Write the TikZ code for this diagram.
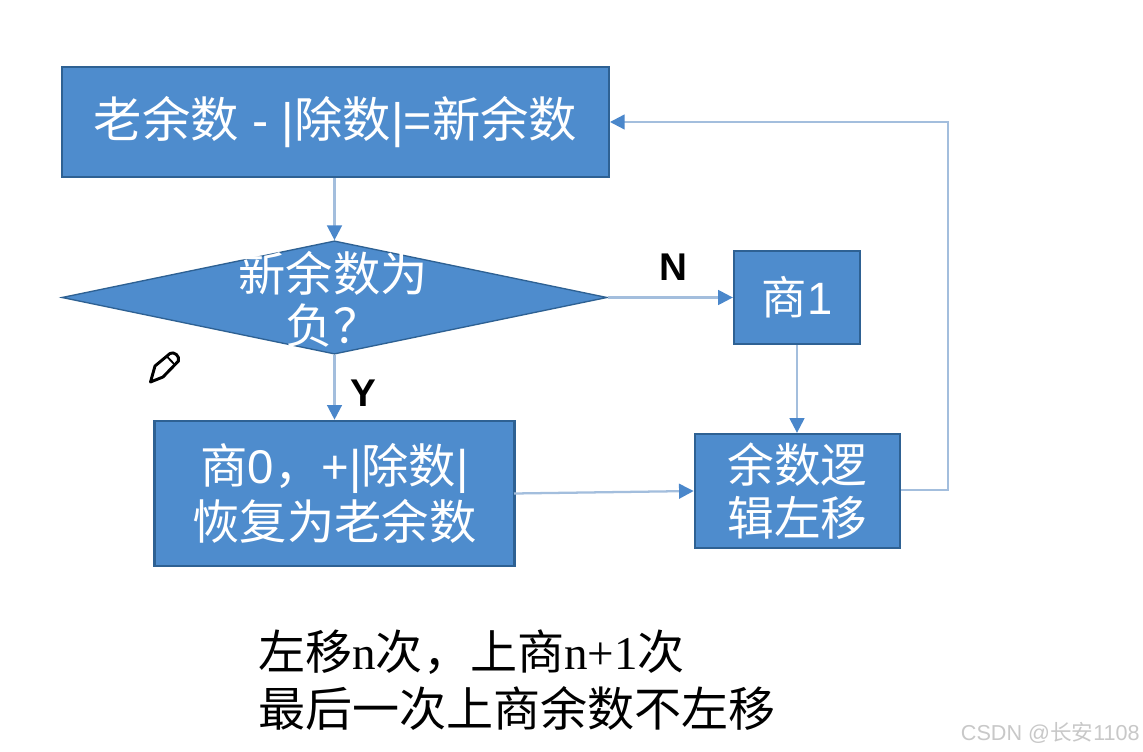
\documentclass[tikz,border=0pt]{standalone}
\usepackage{fontspec}
\usetikzlibrary{arrows.meta,shapes.geometric}
\setmainfont{Liberation Sans}
\newfontfamily\cjk{Noto Sans CJK SC}
\newfontfamily\ser{Liberation Serif}
\definecolor{boxfill}{HTML}{4E8CCD}
\definecolor{boxedge}{HTML}{2E6193}
\definecolor{linec}{HTML}{A3BEDD}
\definecolor{tipc}{HTML}{4A87CB}
\definecolor{mark}{HTML}{C8C8C8}
\tikzset{
  flowbox/.style={rectangle,draw=boxedge,fill=boxfill,line width=1.7pt,inner sep=0pt,
    text=white,align=center,font=\fontsize{35.5}{41}\selectfont},
  flowdiamond/.style={diamond,draw=boxedge,fill=boxfill,line width=1pt,inner sep=0pt,
    minimum width=409pt,minimum height=85pt,aspect=4.8},
  flowtext/.style={text=white,align=center,inner sep=0pt,font=\fontsize{35.5}{39}\selectfont},
  flowlink/.style={draw=linec,line width=1.7pt,
    -{Triangle[color=tipc,fill=tipc,length=11pt,width=11pt]}},
  branch/.style={inner sep=0pt,font=\fontsize{29}{32}\selectfont\bfseries},
  note/.style={anchor=west,inner sep=0pt,font=\fontsize{35.3}{40}\selectfont},
}
\begin{document}
\begin{tikzpicture}[x=0.75pt,y=-0.75pt]
\useasboundingbox (0,0) rectangle (1143,752);
\fill[white] (0,0) rectangle (1143,752);

\node[flowbox,minimum width=410pt,minimum height=82pt,font=\fontsize{36.3}{41}\selectfont] (old) at (335.5,122)
  {\raisebox{-3pt}{{\cjk 老余数} - |{\cjk 除数}|={\cjk 新余数}}};
\node[flowdiamond] (test) at (334.5,297.5) {};
\node[flowtext] (testlabel) at (333,299) {{\cjk 新余数为}\\{\cjk 负？}};
\node[flowbox,minimum width=94.5pt,minimum height=70pt] (q1) at (797,297.5)
  {\fontsize{34}{40}\selectfont{\cjk 商}1};
\node[flowbox,minimum width=154pt,minimum height=85.5pt,font=\fontsize{35}{40}\selectfont] (shift) at (797.5,491)
  {{\cjk 余数逻}\\{\cjk 辑左移}};
\node[flowbox,minimum width=270pt,minimum height=109pt,font=\fontsize{35.5}{42}\selectfont] (q0) at (334.5,493.5)
  {{\cjk 商}0{\cjk ，}+|{\cjk 除数}|\\{\cjk 恢复为老余数}};

\node[branch] (nlabel) at (673,267) {N};
\node[branch] (ylabel) at (363,393) {Y};

\coordinate (q0out) at (514,493.5);
\coordinate (corner1) at (948,490);
\coordinate (corner2) at (948,122);

\draw[flowlink] (old.south -| test.north) -- (test.north);
\draw[flowlink] (test.east) -- (q1.west |- test.east);
\draw[flowlink] (test.south) -- (test.south |- q0.north);
\draw[flowlink] (q1.south) -- (shift.north -| q1.south);
\draw[flowlink] (q0out) -- (shift.west);
\draw[flowlink] (shift.east |- corner1) -- (corner1) -- (corner2) -- (old.east |- corner2);

\node[note] (note1) at (258,652)
  {{\cjk 左移}{\ser n}{\cjk 次，上商}{\ser n+1}{\cjk 次}};
\node[note] (note2) at (258,708) {{\cjk 最后一次上商余数不左移}};

\draw[black,line width=2.2pt,line join=round,fill=white]
  (150.5,382) -- (155,366) -- (170,353.5) .. controls (174,351) and (180,356) .. (178.5,361)
  -- (163,377) -- cycle;
\draw[black,line width=1.4pt] (167,356.5) -- (175,365);

\node[anchor=east,inner sep=0pt,text=mark,font=\fontsize{16.2}{18}\selectfont] (wm) at (1140,733)
  {CSDN @{\cjk 长安}1108};
\end{tikzpicture}
\end{document}
